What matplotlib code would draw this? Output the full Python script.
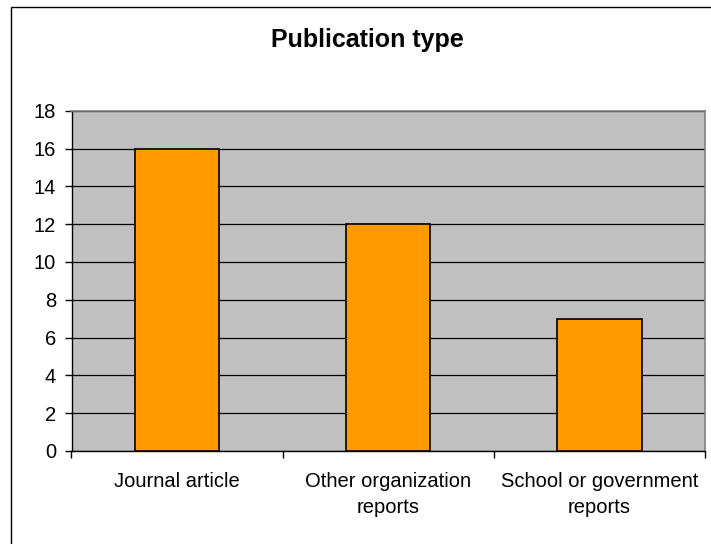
import matplotlib.pyplot as plt
from matplotlib.patches import Rectangle
import numpy as np

categories = ["Journal article", "Other organization\nreports", "School or government\nreports"]
counts = [16, 12, 7]
y_ticks = list(range(0, 19, 2))

plt.rcParams['font.family'] = ['Liberation Sans', 'DejaVu Sans']

W, H = 711, 544
fig = plt.figure(figsize=(W / 100, H / 100), dpi=100)

# outer chart frame (runs off the right and bottom edges)
fig.patches.append(Rectangle((11 / W, -0.1), 1.2, 1 - 7 / H + 0.1, transform=fig.transFigure,
                             fill=False, edgecolor='black', linewidth=1.0))

left, right, top, bottom = 71.5, 705, 110.7, 451
ax = fig.add_axes([left / W, 1 - bottom / H, (right - left) / W, (bottom - top) / H])
ax.set_facecolor('#C0C0C0')

x = np.arange(len(categories))
ax.bar(x, counts, width=0.4, color='#FF9900', edgecolor='black', linewidth=1.2, zorder=3)

ax.set_xlim(-0.5, len(categories) - 0.5)
ax.set_ylim(0, 18)
ax.set_yticks(y_ticks)
ax.yaxis.grid(True, color='black', linewidth=0.9, zorder=1)
ax.set_axisbelow(True)

# category ticks sit between the bars, labels centred under each bar
ax.set_xticks(np.arange(len(categories) + 1) - 0.5)
ax.set_xticklabels([])
ax.set_xticks(x, minor=True)
ax.set_xticklabels(categories, minor=True, fontsize=14.5, linespacing=1.5)
ax.tick_params(axis='x', which='minor', length=0, pad=15)
ax.tick_params(axis='x', which='major', length=5, width=1, color='black')
ax.tick_params(axis='y', length=5, width=1, pad=6, labelsize=14.5)

for s in ('top', 'right'):
    ax.spines[s].set_color('#808080')
    ax.spines[s].set_linewidth(1.2)
for s in ('left', 'bottom'):
    ax.spines[s].set_color('black')
    ax.spines[s].set_linewidth(1.0)

fig.text(367 / W, 1 - 47 / H, "Publication type", ha='center', va='baseline',
         fontsize=18, fontweight='bold')

fig.savefig('out.png', dpi=100)
